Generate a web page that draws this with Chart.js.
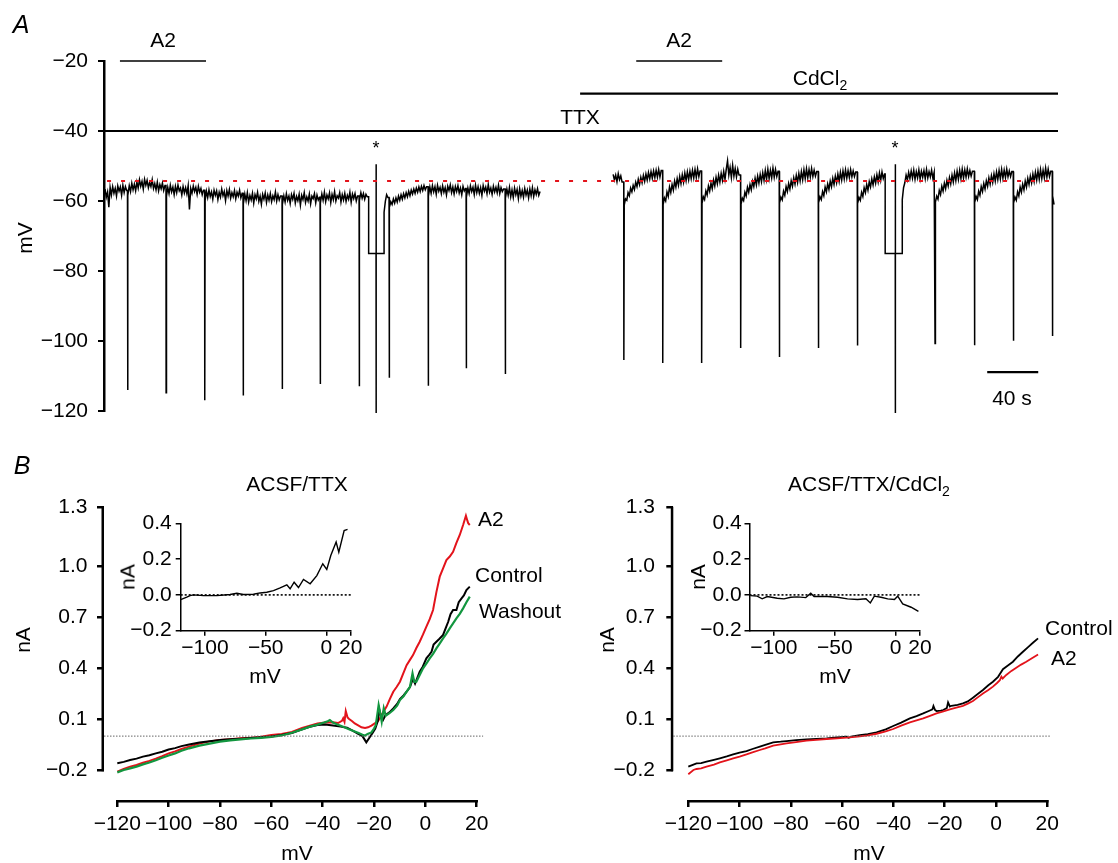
<!DOCTYPE html>
<html><head><meta charset="utf-8">
<script src="https://cdn.jsdelivr.net/npm/chart.js@4.4.0/dist/chart.umd.min.js"></script>
<style>
html,body{margin:0;padding:0;background:#fff;}
#fig{position:relative;width:1118px;height:863px;overflow:hidden;background:#fff;font-family:"Liberation Sans",Arial,Helvetica,sans-serif;color:#000;}
canvas{position:absolute;}
.t{position:absolute;font-size:21px;line-height:1;white-space:nowrap;transform:translate(-50%,-50%);}
.l{transform:translate(0,-50%);}
.r{transform:translate(-50%,-50%) rotate(-90deg);}
.p{font-style:italic;font-size:25px;}
.s{font-size:18px;}
sub{font-size:14px;vertical-align:-5px;line-height:0;}
</style></head><body><div id="fig">
<canvas id="cA" width="1118" height="440" style="left:0;top:0;width:1118px;height:440px"></canvas>
<canvas id="cBL" width="560" height="423" style="left:0;top:440px;width:560px;height:423px"></canvas>
<canvas id="cBR" width="558" height="423" style="left:560px;top:440px;width:558px;height:423px"></canvas>
<canvas id="cIL" width="270" height="190" style="left:100px;top:500px;width:270px;height:190px"></canvas>
<canvas id="cIR" width="270" height="190" style="left:670px;top:500px;width:270px;height:190px"></canvas>

<div class="t p" style="left:21px;top:24px">A</div>
<div class="t" style="left:163px;top:39px">A2</div>
<div class="t" style="left:679px;top:39px">A2</div>
<div class="t" style="left:820px;top:77px">CdCl<sub>2</sub></div>
<div class="t" style="left:580px;top:116px">TTX</div>
<div class="t s" style="left:376px;top:148px">*</div>
<div class="t s" style="left:895px;top:148px">*</div>
<div class="t" style="left:1012px;top:397px">40 s</div>
<div class="t r" style="left:24px;top:238px">mV</div>

<div class="t p" style="left:22px;top:465px">B</div>
<div class="t" style="left:297px;top:483px">ACSF/TTX</div>
<div class="t" style="left:869px;top:483px">ACSF/TTX/CdCl<sub>2</sub></div>
<div class="t r" style="left:22px;top:640px">nA</div>
<div class="t r" style="left:606px;top:640px">nA</div>
<div class="t" style="left:297px;top:852px">mV</div>
<div class="t" style="left:869px;top:852px">mV</div>
<div class="t r" style="left:127px;top:577px">nA</div>
<div class="t r" style="left:697px;top:577px">nA</div>
<div class="t" style="left:265px;top:675px">mV</div>
<div class="t" style="left:835px;top:675px">mV</div>
<div class="t l" style="left:478px;top:518px">A2</div>
<div class="t l" style="left:475px;top:574px">Control</div>
<div class="t l" style="left:479px;top:610px">Washout</div>
<div class="t l" style="left:1045px;top:627px">Control</div>
<div class="t l" style="left:1051px;top:657px">A2</div>
</div>
<script>
// ---------------- DATA ----------------
// Panel A: time in s, membrane potential in mV
const aYTicks = [-20, -40, -60, -80, -100, -120];
const SWEEP_DT = 1;
const STEP_LEVEL = -75, PROBE_TOP = -49.5, PROBE_MIN = -120.6;
const restLevel = -54.3;           // red dotted line
const barA2 = [[12.5, 80.0], [417.3, 484.7]];
const barCd = [373.3, 748];
const barTTX = [0, 748];
const scaleBar = [692.5, 732.5];   // 40 s

const seg1Start = 0.8;
const seg1SpikeT = [18.4, 48.6, 78.9, 109.0, 139.6, 169.4, 200.0, 223.5, 254.1, 283.9, 314.5];
const seg1SpikeMin = [-114.0, -114.8, -116.9, -115.6, -113.7, -112.3, -112.9, -110.5, -112.8, -107.8, -109.4];
const seg1Step = [207.5, 213.3, 219.6];
const seg1Sweeps = [
 [-56.6,-58.9,-57.4,-61.8,-56.1,-58.3,-55.9,-57.8,-56.4,-58.6,-55.7,-57.2,-56.0,-58.4,-55.5,-57.6,-55.9,-57.0],
 [-58.4,-55.6,-57.3,-54.9,-56.8,-55.2,-57.1,-54.6,-56.3,-53.9,-55.8,-54.4,-56.6,-53.8,-55.5,-54.1,-56.2,-54.7,-55.9,-53.9,-56.4,-55.0,-56.8,-54.6,-57.1,-55.3,-56.5,-54.9,-57.0,-55.6],
 [-58.6,-56.1,-57.9,-55.5,-57.4,-56.0,-58.2,-55.8,-57.6,-55.4,-57.1,-56.3,-58.3,-55.9,-57.7,-56.2,-58.0,-55.6,-62.4,-56.4,-57.8,-55.7,-57.3,-56.1,-58.1,-55.8,-57.5,-56.4,-58.2,-56.9],
 [-59.8,-57.2,-59.0,-56.8,-58.7,-57.4,-59.5,-56.9,-58.4,-57.1,-59.6,-57.5,-58.9,-56.6,-58.5,-57.3,-59.9,-57.0,-58.6,-56.7,-59.2,-57.6,-58.8,-57.0,-59.4,-57.5,-58.6,-56.9,-59.1,-57.8],
 [-60.8,-58.0,-59.9,-57.6,-60.3,-58.4,-59.7,-57.8,-60.6,-58.2,-59.4,-57.5,-60.1,-58.6,-60.9,-58.1,-59.5,-57.7,-60.4,-58.3,-59.8,-57.9,-60.2,-58.5,-59.6,-57.4,-60.0,-58.2,-59.7,-58.6],
 [-61.0,-58.5,-60.3,-57.9,-59.8,-58.6,-60.7,-58.2,-59.5,-57.8,-60.6,-58.7,-59.9,-58.1,-61.2,-58.4,-59.6,-57.6,-60.4,-58.8,-60.0,-58.0,-60.8,-58.6,-59.3,-57.9,-60.5,-58.3,-59.7,-58.9],
 [-60.6,-58.0,-59.8,-57.5,-60.2,-58.3,-59.4,-57.7,-60.5,-58.1,-59.6,-57.3,-60.0,-58.5,-59.2,-57.6,-60.3,-58.2,-59.7,-57.8,-60.1,-58.4,-59.5,-57.5,-60.4,-58.0,-59.3,-57.9,-60.0,-58.6],
 [-59.8,-57.6,-59.2,-57.9,-59.5,-58.1,-58.8],
 [-63.2,-60.1,-58.2,-59.0],
 [-61.8,-60.2,-61.0,-59.4,-60.6,-59.1,-60.3,-58.6,-59.8,-58.2,-59.5,-57.9,-59.1,-57.6,-58.8,-57.2,-58.5,-56.9,-58.0,-56.6,-57.8,-56.3,-57.5,-56.0,-57.3,-55.8,-57.0,-55.6,-56.8,-55.9],
 [-58.6,-56.0,-57.8,-55.6,-57.4,-55.9,-58.1,-55.5,-57.2,-56.1,-57.9,-55.7,-57.5,-56.2,-58.3,-55.8,-57.0,-55.4,-57.6,-56.0,-58.0,-55.9,-57.3,-55.6,-57.7,-56.3,-58.2,-55.8,-57.1,-56.4],
 [-58.9,-56.3,-57.9,-55.7,-57.3,-56.1,-58.2,-55.5,-57.6,-55.9,-57.8,-56.2,-58.4,-55.6,-57.2,-56.0,-57.9,-55.3,-57.5,-56.3,-58.1,-55.8,-57.4,-56.1,-57.7,-55.5,-57.9,-56.2,-57.3,-56.6],
 [-59.2,-56.6,-58.4,-56.1,-58.8,-56.8,-59.0,-56.3,-58.2,-56.7,-59.3,-56.5,-58.6,-57.0,-58.9,-56.4,-58.3,-56.9,-59.1,-56.6,-58.5,-56.2,-58.7,-56.8,-58.1,-56.5,-58.4,-57.3]
];

const seg2Start = 399.2;
const seg2SpikeT = [407.5, 438.0, 468.5, 499.1, 529.4, 560.0, 590.6, 651.5, 682.4, 712.9, 743.5];
const seg2SpikeMin = [-105.4, -106.3, -106.3, -102.0, -104.6, -102.0, -101.3, -100.7, -101.2, -99.9, -98.6];
const seg2Step = [612.5, 620.4, 625.9];
const seg2Sweeps = [
 [-52.4,-54.0,-52.6,-54.5,-52.2,-53.9,-52.8,-54.6],
 [-61.2,-59.4,-59.8,-57.6,-58.5,-56.3,-57.4,-55.5,-56.7,-54.6,-55.9,-53.8,-55.3,-53.2,-54.8,-52.7,-54.4,-52.3,-54.0,-51.9,-53.7,-51.6,-53.5,-51.4,-53.3,-51.2,-53.2,-51.0,-53.1,-51.3],
 [-61.0,-59.1,-60.0,-57.4,-58.7,-56.0,-57.6,-55.3,-56.9,-54.3,-56.0,-53.6,-55.5,-53.0,-55.0,-52.5,-54.6,-52.0,-54.2,-51.7,-53.9,-51.5,-53.6,-51.2,-53.4,-51.0,-53.3,-50.8,-53.0,-51.4],
 [-60.7,-58.8,-59.6,-57.1,-58.3,-55.7,-57.2,-54.9,-56.5,-54.0,-55.7,-53.2,-55.1,-52.6,-54.6,-52.1,-54.1,-51.5,-53.8,-50.9,-48.5,-52.6,-50.4,-53.3,-49.8,-52.9,-50.7,-53.1,-50.9,-52.6],
 [-60.9,-59.2,-59.9,-57.5,-58.6,-56.1,-57.5,-55.3,-56.8,-54.4,-55.9,-53.5,-55.4,-52.9,-54.9,-52.4,-54.5,-51.9,-54.1,-51.3,-53.8,-50.9,-53.6,-51.2,-53.4,-50.6,-53.2,-51.0,-53.0,-51.5],
 [-60.6,-58.9,-59.7,-57.2,-58.4,-55.9,-57.3,-55.0,-56.6,-54.2,-55.8,-53.4,-55.2,-52.7,-54.7,-52.1,-54.3,-51.6,-53.9,-51.1,-53.6,-50.8,-53.4,-51.0,-53.2,-50.7,-53.0,-51.2,-52.9,-51.6],
 [-60.5,-58.8,-59.6,-57.3,-58.5,-56.0,-57.4,-55.1,-56.7,-54.3,-55.9,-53.5,-55.3,-52.9,-54.8,-52.3,-54.4,-51.8,-54.0,-51.4,-53.7,-51.1,-53.5,-51.3,-53.3,-51.0,-53.1,-51.4,-53.0,-51.7],
 [-60.7,-59.0,-59.8,-57.5,-58.7,-56.2,-57.6,-55.3,-56.9,-54.5,-56.0,-53.7,-55.4,-53.1,-54.9,-52.5,-54.5,-52.0,-54.1,-51.7,-53.6,-52.3],
 [-59.6,-56.2,-54.8,-52.6,-54.0,-51.8,-53.6,-51.4,-53.5,-51.2,-53.8,-51.6,-53.4,-51.1,-53.7,-51.5,-53.2,-51.3,-53.6,-51.0,-53.4,-51.6,-53.1,-51.2,-53.5,-51.8],
 [-60.3,-58.6,-59.5,-57.0,-58.2,-55.8,-57.2,-54.9,-56.5,-54.1,-55.7,-53.3,-55.1,-52.6,-54.6,-52.0,-54.2,-51.5,-53.8,-51.2,-53.6,-50.9,-53.4,-51.1,-53.2,-50.8,-53.0,-51.3,-52.9,-51.5],
 [-60.4,-58.7,-59.6,-57.2,-58.4,-55.9,-57.3,-55.0,-56.6,-54.2,-55.8,-53.4,-55.2,-52.8,-54.7,-52.2,-54.3,-51.7,-53.9,-51.3,-53.7,-51.0,-53.5,-51.2,-53.3,-50.9,-53.1,-51.4,-53.0,-51.6],
 [-60.6,-58.9,-59.8,-57.4,-58.6,-56.0,-57.5,-55.2,-56.8,-54.3,-56.0,-53.5,-55.3,-52.9,-54.8,-52.3,-54.4,-51.8,-54.0,-51.4,-53.8,-51.0,-53.6,-51.2,-53.4,-50.6,-53.2,-50.9,-53.0,-51.5],
 [-58.5,-61.0]
];

// Panel B: [mV, nA]
const ivXTicks = [-120, -100, -80, -60, -40, -20, 0, 20];
const ivYTicks = [-0.2, 0.1, 0.4, 0.7, 1.0, 1.348];
const ivYTickLabels = ['\u22120.2', '0.1', '0.4', '0.7', '1.0', '1.3'];
const insetXTicks = [-100, -50, 0, 20];
const insetYTicks = [-0.2, 0, 0.2, 0.4];

const ttxControl = [[-120,-0.160],[-117.5,-0.152],[-115,-0.141],[-112.5,-0.133],[-110,-0.121],[-107.5,-0.113],[-105,-0.102],[-102.5,-0.092],[-100,-0.079],[-97.5,-0.071],[-95,-0.059],[-92,-0.050],[-88,-0.038],[-84,-0.030],[-80,-0.023],[-76,-0.019],[-72,-0.015],[-68,-0.011],[-64,-0.007],[-60,-0.002],[-56,0.006],[-52,0.018],[-48,0.040],[-45,0.055],[-42,0.066],[-39,0.068],[-36,0.062],[-33,0.056],[-30.5,0.050],[-28,0.030],[-26,0.012],[-24.5,0.000],[-23,-0.037],[-21.8,-0.010],[-20.5,0.020],[-19.5,0.045],[-18.5,0.090],[-18,0.160],[-17.2,0.110],[-16.5,0.095],[-15.5,0.125],[-14,0.140],[-12.5,0.164],[-11,0.190],[-9.9,0.219],[-8.5,0.240],[-7.3,0.262],[-6,0.290],[-4.8,0.340],[-4,0.310],[-2.2,0.380],[-1,0.410],[0.4,0.459],[1.5,0.480],[2.4,0.498],[3.2,0.540],[4.3,0.557],[5.5,0.575],[6.9,0.597],[8,0.640],[8.9,0.675],[9.8,0.720],[10.8,0.744],[12.1,0.744],[13,0.790],[14.1,0.813],[15,0.830],[16,0.862],[17.3,0.882]];
const ttxWashout = [[-120,-0.214],[-117.5,-0.200],[-115,-0.190],[-112.5,-0.180],[-110,-0.167],[-107.5,-0.156],[-105,-0.142],[-102.5,-0.128],[-100,-0.114],[-97.5,-0.102],[-95,-0.086],[-92,-0.072],[-88,-0.056],[-84,-0.044],[-80,-0.033],[-76,-0.025],[-72,-0.019],[-68,-0.014],[-64,-0.010],[-60,-0.005],[-56,0.004],[-52,0.020],[-48,0.040],[-45,0.056],[-42,0.068],[-39.5,0.080],[-38,0.088],[-37.2,0.095],[-36,0.080],[-34.5,0.070],[-32,0.055],[-30,0.042],[-28,0.030],[-26,0.018],[-24.5,0.008],[-23.6,0.003],[-22.5,0.012],[-21,0.022],[-20,0.045],[-19.3,0.066],[-18.6,0.140],[-18.2,0.183],[-17.4,0.120],[-17,0.085],[-16.2,0.164],[-15.4,0.120],[-14,0.135],[-12.5,0.154],[-11,0.180],[-9.9,0.213],[-8.5,0.235],[-7.3,0.262],[-6,0.290],[-5,0.370],[-4.3,0.320],[-3.5,0.321],[-2.2,0.360],[-0.9,0.400],[0.5,0.430],[1.7,0.459],[3,0.485],[4.3,0.518],[5.5,0.545],[6.9,0.577],[8.2,0.605],[9.5,0.636],[10.8,0.665],[12.1,0.695],[13.4,0.722],[14.7,0.754],[16,0.790],[17.3,0.823]];
const ttxA2 = [[-120,-0.210],[-117.5,-0.193],[-115,-0.180],[-112.5,-0.170],[-110,-0.157],[-107.5,-0.146],[-105,-0.133],[-102.5,-0.118],[-100,-0.102],[-97.5,-0.090],[-95,-0.076],[-92,-0.062],[-88,-0.044],[-84,-0.031],[-80,-0.023],[-76,-0.018],[-72,-0.013],[-68,-0.009],[-64,-0.004],[-60,0.006],[-56,0.012],[-52,0.024],[-48,0.048],[-45,0.062],[-42,0.074],[-39,0.080],[-36,0.082],[-34,0.077],[-32.5,0.090],[-32,0.105],[-31.5,0.085],[-31,0.148],[-30.3,0.110],[-29.7,0.101],[-28.5,0.088],[-27.5,0.075],[-26,0.062],[-24.9,0.052],[-23.5,0.048],[-22.3,0.052],[-21,0.062],[-19.7,0.075],[-18.5,0.088],[-17.7,0.105],[-16.5,0.140],[-15.1,0.174],[-13.8,0.220],[-12.5,0.262],[-11.2,0.290],[-9.9,0.321],[-8.6,0.370],[-7.3,0.419],[-6,0.450],[-4.8,0.478],[-3.5,0.520],[-2.2,0.557],[-0.9,0.600],[0.4,0.646],[1.7,0.690],[3,0.744],[4.3,0.850],[5.6,0.941],[6.9,0.990],[8.2,1.039],[9.5,1.060],[10.8,1.088],[12.1,1.140],[13.4,1.187],[14.7,1.246],[15.8,1.301],[16.4,1.270],[16.7,1.256],[17.3,1.246]];
const ttxDiff = [[-120,-0.026],[-115,-0.013],[-112.3,-0.004],[-109.5,0.0],[-101.3,-0.004],[-90.3,-0.004],[-79.3,0.002],[-73.8,0.009],[-68.4,0.002],[-60.1,0.004],[-54.6,0.011],[-49.1,0.015],[-43.6,0.024],[-38.1,0.039],[-32.6,0.056],[-29.9,0.034],[-26.6,0.071],[-23,0.041],[-18.9,0.086],[-13.4,0.062],[-7.9,0.108],[-3,0.174],[0.3,0.142],[3.6,0.220],[8,0.295],[10.2,0.239],[14.6,0.360],[17.4,0.366]];

const cdControl = [[-120,-0.180],[-118,-0.168],[-116.8,-0.161],[-115,-0.160],[-112.9,-0.151],[-110,-0.140],[-107.7,-0.131],[-105,-0.120],[-102.5,-0.108],[-100,-0.097],[-97.3,-0.088],[-95,-0.076],[-92.1,-0.062],[-90,-0.052],[-86.9,-0.037],[-84,-0.033],[-81.7,-0.029],[-78,-0.024],[-73.9,-0.019],[-70,-0.016],[-66.1,-0.013],[-62,-0.008],[-58.3,-0.003],[-57.5,-0.010],[-56,-0.002],[-53.1,0.006],[-50,0.012],[-46.6,0.022],[-43,0.040],[-40.1,0.060],[-37,0.080],[-33.6,0.105],[-31,0.118],[-28.4,0.134],[-26,0.150],[-24.8,0.158],[-24.4,0.178],[-23.8,0.155],[-23.2,0.148],[-21.5,0.150],[-20.6,0.154],[-19.2,0.165],[-18.7,0.199],[-18,0.175],[-17.4,0.179],[-15,0.185],[-12.9,0.193],[-11,0.205],[-9,0.227],[-7,0.250],[-5.1,0.272],[-3,0.300],[-1.2,0.321],[0.8,0.350],[2.7,0.395],[4.5,0.415],[6.6,0.439],[8.5,0.470],[10.5,0.498],[12.5,0.525],[14.4,0.551],[16.4,0.577]];
const cdA2 = [[-120,-0.225],[-118,-0.200],[-116.8,-0.194],[-115,-0.190],[-112.9,-0.180],[-110,-0.168],[-107.7,-0.155],[-105,-0.143],[-102.5,-0.131],[-100,-0.121],[-97.3,-0.108],[-95,-0.096],[-92.1,-0.082],[-90,-0.072],[-86.9,-0.056],[-84,-0.049],[-81.7,-0.043],[-78,-0.035],[-73.9,-0.027],[-70,-0.022],[-66.1,-0.017],[-62,-0.013],[-58.3,-0.009],[-55,-0.004],[-53.1,-0.001],[-50,0.005],[-46.6,0.014],[-43,0.028],[-40.1,0.042],[-37,0.062],[-33.6,0.081],[-31,0.093],[-28.4,0.105],[-26,0.118],[-23.2,0.134],[-20.5,0.146],[-18,0.158],[-15.5,0.168],[-12.9,0.179],[-11,0.192],[-9,0.207],[-7,0.230],[-5.1,0.252],[-3,0.272],[-1.2,0.292],[0.5,0.315],[1.5,0.330],[2.1,0.351],[2.6,0.340],[4,0.361],[6,0.385],[7.9,0.404],[9.8,0.422],[11.8,0.439],[14,0.460],[16.4,0.482]];
const cdDiff = [[-119.2,-0.004],[-113.7,-0.007],[-109.6,-0.022],[-105.4,-0.009],[-97.2,-0.019],[-91.7,-0.022],[-86.2,-0.013],[-80.7,-0.011],[-73.8,-0.015],[-69.7,0.009],[-67,-0.009],[-56,-0.009],[-47.7,-0.013],[-39.5,-0.022],[-31.3,-0.026],[-24.4,-0.022],[-20.8,-0.045],[-17.5,-0.007],[-12,-0.013],[-6.5,-0.022],[-1,-0.026],[1.7,-0.007],[5.8,-0.050],[12.7,-0.069],[18.7,-0.092]];

// ---------------- BUILD ----------------
Chart.defaults.font.family = '"Liberation Sans", Arial, Helvetica, sans-serif';
Chart.defaults.font.size = 21;
Chart.defaults.color = '#000';

const RED = '#e3131b', GREEN = '#12963f', BLACK = '#000';

function buildTrace(t0, sweeps, spikeT, spikeMin, step) {
  const ev = spikeT.map((t, i) => ({a: t, b: t + 0.4, pts: [[t + 0.1, spikeMin[i]]]}));
  ev.push({a: step[0], b: step[2], pts: [[step[0], STEP_LEVEL], [step[1], STEP_LEVEL], [step[1], PROBE_TOP], [step[1] + 0.1, PROBE_MIN], [step[1] + 0.2, STEP_LEVEL], [step[2], STEP_LEVEL]]});
  ev.sort((p, q) => p.a - q.a);
  const out = [];
  let t = t0;
  sweeps.forEach((vals, k) => {
    const e = ev[k];
    vals.forEach((v, i) => { const tt = t + SWEEP_DT * i; if (!e || tt < e.a - 0.3) out.push({x: tt, y: v}); });
    if (e) { out.push({x: e.a, y: vals[vals.length - 1]}); e.pts.forEach(p => out.push({x: p[0], y: p[1]})); t = e.b; }
  });
  return out;
}
const pairs = arr => arr.map(([x, y]) => ({x, y}));
const seg = (x0, x1, y) => [{x: x0, y}, {x: x1, y}];
const line = (data, color, width, extra) => Object.assign({data, borderColor: color, borderWidth: width, pointRadius: 0, tension: 0, fill: false, clip: false}, extra || {});
const fmt = v => (v < 0 ? '\u2212' : '') + Math.abs(v);
const base = {responsive: false, animation: false, devicePixelRatio: 1, events: [],
  plugins: {legend: {display: false}, tooltip: {enabled: false}}};

// Panel A
new Chart(document.getElementById('cA'), {
  type: 'line',
  data: {datasets: [
    line(seg(2.4, 748, restLevel), RED, 2, {borderDash: [4, 10]}),
    line(buildTrace(seg1Start, seg1Sweeps, seg1SpikeT, seg1SpikeMin, seg1Step), BLACK, 1.5),
    line(buildTrace(seg2Start, seg2Sweeps, seg2SpikeT, seg2SpikeMin, seg2Step), BLACK, 1.5),
    line(seg(barA2[0][0], barA2[0][1], -20), BLACK, 1.5),
    line(seg(barA2[1][0], barA2[1][1], -20), BLACK, 1.5),
    line(seg(barCd[0], barCd[1], -29.3), BLACK, 2.2),
    line(seg(barTTX[0], barTTX[1], -40), BLACK, 2.2),
    line(seg(scaleBar[0], scaleBar[1], -108.9), BLACK, 2.2)
  ]},
  options: Object.assign({}, base, {
    layout: {padding: {left: 0, top: 61, right: 60, bottom: 29}},
    scales: {
      x: {type: 'linear', min: 0, max: 748, display: false},
      y: {min: -120, max: -20,
        afterBuildTicks: s => { s.ticks = aYTicks.map(v => ({value: v})); },
        afterFit: s => { s.width = 104; },
        border: {display: true, color: '#000', width: 2.5},
        grid: {drawOnChartArea: false, drawTicks: true, tickLength: 6, lineWidth: 2, color: '#000'},
        ticks: {padding: 10, color: '#000', callback: v => fmt(v)}}
    }
  })
});

// Detached axes for the I-V plots
const detachedAxes = {id: 'detachedAxes', afterDraw(chart) {
  const {ctx, chartArea, scales: {x, y}} = chart;
  ctx.save();
  ctx.strokeStyle = '#000'; ctx.lineWidth = 2.5;
  ctx.beginPath();
  const x0 = chartArea.left - 1.25;
  ctx.moveTo(x0, y.getPixelForValue(ivYTicks[0]) + 1.25);
  ctx.lineTo(x0, y.getPixelForValue(ivYTicks[ivYTicks.length - 1]) - 1);
  const yb = chartArea.bottom + 1.25;
  ctx.moveTo(x.getPixelForValue(ivXTicks[0]) - 1, yb);
  ctx.lineTo(x.getPixelForValue(ivXTicks[ivXTicks.length - 1]) + 1.25, yb);
  ctx.stroke();
  ctx.restore();
}};

function ivChart(id, xMin, axisW, padRight, padY, datasets, zeroEnd) {
  return new Chart(document.getElementById(id), {
    type: 'line',
    data: {datasets: [line(seg(xMin, zeroEnd, 0), '#666', 1, {borderDash: [1.5, 1.5]})].concat(datasets)},
    options: Object.assign({}, base, {
      layout: {padding: {left: 0, top: 67.7, right: padRight, bottom: 0}},
      scales: {
        x: {type: 'linear', min: xMin, max: 20,
          afterBuildTicks: s => { s.ticks = ivXTicks.map(v => ({value: v})); },
          afterFit: s => { s.height = 63; },
          border: {display: false},
          grid: {drawOnChartArea: false, drawTicks: true, tickLength: 7, lineWidth: 2.5, color: '#000'},
          ticks: {autoSkip: false, maxRotation: 0, padding: 5, color: '#000', callback: v => fmt(v)}},
        y: {type: 'linear', min: -0.377, max: 1.348,
          afterBuildTicks: s => { s.ticks = ivYTicks.map(v => ({value: v})); },
          afterFit: s => { s.width = axisW; },
          border: {display: false},
          grid: {drawOnChartArea: false, drawTicks: true, tickLength: 7, lineWidth: 2.5, color: '#000'},
          ticks: {autoSkip: false, padding: padY, color: '#000', callback: (v, i) => ivYTickLabels[i]}}
      }
    }),
    plugins: [detachedAxes]
  });
}

ivChart('cBL', -125.18, 104, 83.3, 9.5, [
  line(pairs(ttxWashout), GREEN, 2.2),
  line(pairs(ttxControl), BLACK, 2),
  line(pairs(ttxA2), RED, 2)
], 22.5);
ivChart('cBR', -125.85, 113.3, 70.7, 11.3, [
  line(pairs(cdA2), RED, 1.8),
  line(pairs(cdControl), BLACK, 1.8)
], 21.1);

function insetChart(id, axisW, padRight, padY, diff) {
  return new Chart(document.getElementById(id), {
    type: 'line',
    data: {datasets: [
      line(pairs(diff), BLACK, 1.4),
      line(seg(-120, 20, 0), BLACK, 1.6, {borderDash: [2, 2]})
    ]},
    options: Object.assign({}, base, {
      layout: {padding: {left: 0, top: 23.3, right: padRight, bottom: 0}},
      scales: {
        x: {type: 'linear', min: -120, max: 20,
          afterBuildTicks: s => { s.ticks = insetXTicks.map(v => ({value: v})); },
          afterFit: s => { s.height = 59.3; },
          border: {display: true, color: '#000', width: 1.5},
          grid: {drawOnChartArea: false, drawTicks: true, tickLength: 5, lineWidth: 1.5, color: '#000'},
          ticks: {autoSkip: false, maxRotation: 0, padding: 0, color: '#000', callback: v => fmt(v)}},
        y: {type: 'linear', min: -0.2, max: 0.4,
          afterBuildTicks: s => { s.ticks = insetYTicks.map(v => ({value: v})); },
          afterFit: s => { s.width = axisW; },
          border: {display: true, color: '#000', width: 1.5},
          grid: {drawOnChartArea: false, drawTicks: true, tickLength: 5, lineWidth: 1.5, color: '#000'},
          ticks: {autoSkip: false, padding: padY, color: '#000', callback: v => (v < 0 ? '\u2212' : '') + Math.abs(v).toFixed(1)}}
      }
    })
  });
}
insetChart('cIL', 80.7, 19.3, 4, ttxDiff);
insetChart('cIR', 79.5, 20, 2.8, cdDiff);
</script>
</body></html>
